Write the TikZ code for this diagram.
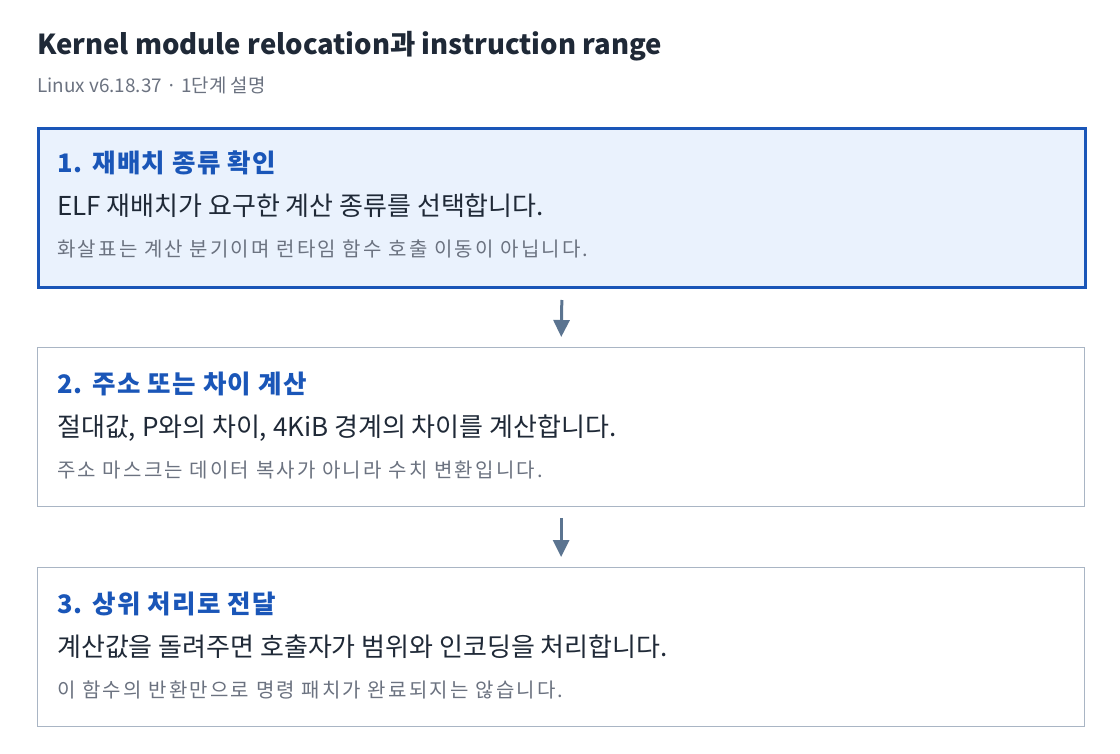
\documentclass[tikz,border=0pt]{standalone}
\usepackage{fontspec}
\setmainfont{Noto Sans CJK KR}
\newfontfamily\headfont{Noto Sans CJK KR}[LetterSpace=5]
\newfontfamily\notefont{Noto Sans CJK KR}[LetterSpace=11]
\usetikzlibrary{arrows.meta,positioning}

\definecolor{inkdark}{HTML}{1F2937}
\definecolor{inkgray}{HTML}{6B7280}
\definecolor{stepblue}{HTML}{1A56B8}
\definecolor{stepfill}{HTML}{EAF2FD}
\definecolor{boxgray}{HTML}{A9B5C4}
\definecolor{flowgray}{HTML}{5B7490}

\tikzset{
  stepbox/.style={draw=boxgray, line width=1.2pt, fill=white, anchor=north west,
    minimum width=1047pt, minimum height=159pt, inner sep=0pt},
  activebox/.style={stepbox, draw=stepblue, line width=3pt, fill=stepfill},
  steptitle/.style={anchor=base west, inner sep=0pt, text=stepblue, font=\headfont\fontsize{25.5}{30}\selectfont\bfseries},
  stepmain/.style={anchor=base west, inner sep=0pt, text=inkdark, font=\fontsize{26}{30}\selectfont},
  stepnote/.style={anchor=base west, inner sep=0pt, text=inkgray, font=\notefont\fontsize{20}{24}\selectfont},
  flow/.style={-{Triangle[length=17pt,width=16pt]}, draw=flowgray, line width=3pt}
}

\begin{document}
\begin{tikzpicture}[x=1pt,y=-1pt]

\useasboundingbox (0,0) rectangle (1120,754);

\node [anchor=base west, inner sep=0pt, text=inkdark, font=\fontsize{27.5}{32}\selectfont\bfseries] (title) at (37,55) {Kernel module relocation과 instruction range};
\node [anchor=base west, inner sep=0pt, text=inkgray, font=\fontsize{18.9}{22}\selectfont] (subtitle) at (37,93) {Linux v6.18.37 · 1단계 설명};

% step boxes
\node [activebox] (step1) at (37,127) {};
\node [stepbox] (step2) at (37,347) {};
\node [stepbox] (step3) at (37,567) {};

\node [steptitle] (t1) at ([shift={(20,46)}]step1.north west) {1. 재배치 종류 확인};
\node [stepmain] (m1) at ([shift={(20,89)}]step1.north west) {ELF 재배치가 요구한 계산 종류를 선택합니다.};
\node [stepnote] (n1) at ([shift={(20,130)}]step1.north west) {화살표는 계산 분기이며 런타임 함수 호출 이동이 아닙니다.};

\node [steptitle] (t2) at ([shift={(20,46)}]step2.north west) {2. 주소 또는 차이 계산};
\node [stepmain] (m2) at ([shift={(20,89)}]step2.north west) {절대값, P와의 차이, 4KiB 경계의 차이를 계산합니다.};
\node [stepnote] (n2) at ([shift={(20,130)}]step2.north west) {주소 마스크는 데이터 복사가 아니라 수치 변환입니다.};

\node [steptitle] (t3) at ([shift={(20,46)}]step3.north west) {3. 상위 처리로 전달};
\node [stepmain] (m3) at ([shift={(20,89)}]step3.north west) {계산값을 돌려주면 호출자가 범위와 인코딩을 처리합니다.};
\node [stepnote] (n3) at ([shift={(20,130)}]step3.north west) {이 함수의 반환만으로 명령 패치가 완료되지는 않습니다.};

\foreach \a/\b in {step1/step2, step2/step3}
  \draw [flow, shorten <=11pt, shorten >=10pt] (\a.south) -- (\b.north);

\end{tikzpicture}
\end{document}
